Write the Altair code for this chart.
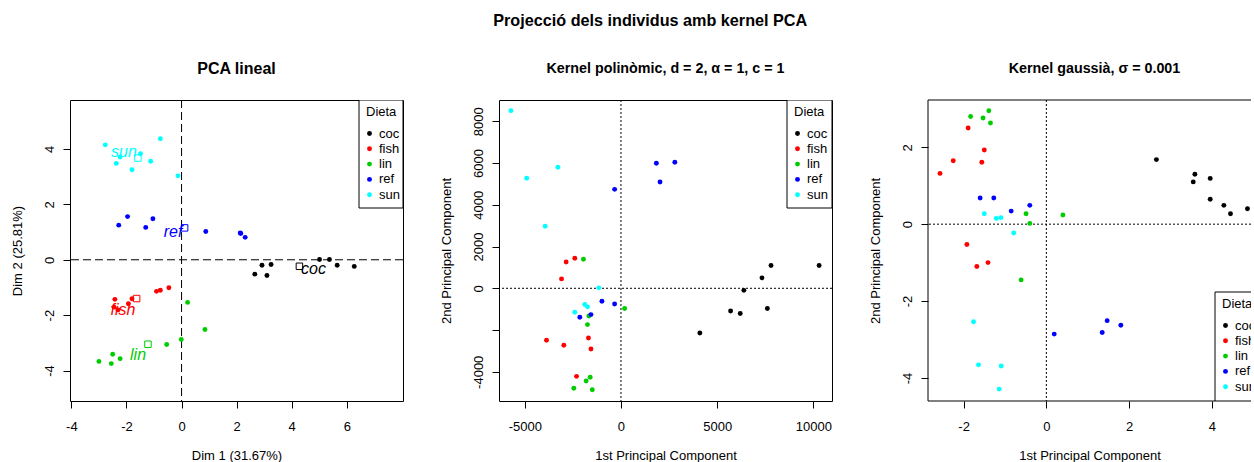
import altair as alt
import pandas as pd

diets = ["coc", "fish", "lin", "ref", "sun"]
diet_colors = ["#000000", "#FF0000", "#00CD00", "#0000FF", "#00FFFF"]
per_diet = 8

# Linear PCA scores, 8 individuals per diet (coc, fish, lin, ref, sun)
lin_dim1 = [2.66, 2.92, 3.25, 3.10, 5.01, 5.37, 5.65, 6.27,
            -2.42, -2.45, -2.31, -1.93, -1.80, -0.91, -0.77, -0.46,
            -3.00, -2.50, -2.55, -2.23, -0.54, -0.01, 0.22, 0.85,
            -2.28, -1.96, -1.30, -1.04, 0.88, 2.13, 2.15, 2.31,
            -2.77, -0.77, -2.23, -2.37, -1.49, -1.12, -1.80, -0.13]
lin_dim2 = [-0.52, -0.20, -0.17, -0.57, 0.01, 0.01, -0.20, -0.24,
            -1.43, -1.71, -1.81, -1.59, -1.41, -1.14, -1.10, -1.01,
            -3.67, -3.41, -3.75, -3.57, -3.06, -2.88, -1.54, -2.52,
            1.25, 1.56, 1.17, 1.48, 1.02, 0.97, 0.95, 0.81,
            4.15, 4.37, 3.71, 3.48, 3.83, 3.56, 3.25, 3.03]
# Where each diet name is written on the linear PCA map
label_dim1 = [4.79, -2.13, -1.58, -0.31, -2.09]
label_dim2 = [-0.33, -1.83, -3.45, 1.02, 3.91]

# Polynomial kernel PCA scores
poly_pc1 = [10300, 7800, 7330, 6390, 7610, 5700, 6200, 4100,
            -2850, -2400, -3090, -3870, -2970, -1690, -1560, -2310,
            -1950, 190, -1670, -1740, -1600, -1810, -2450, -1490,
            1840, 2800, 2030, -330, -990, -330, -1560, -2140,
            -5720, -4900, -3280, -3940, -1150, -1880, -1740, -2400]
poly_pc2 = [1090, 1090, 500, -100, -970, -1090, -1210, -2140,
            1260, 1440, 450, -2490, -2730, -2380, -2910, -4220,
            1390, -970, -1330, -1740, -4260, -4440, -4790, -4860,
            5990, 6040, 5090, 4740, -620, -750, -1260, -1390,
            8510, 5270, 5800, 2970, 20, -780, -890, -1150]

# Gaussian kernel PCA scores
gauss_pc1 = [2.66, 3.59, 3.55, 3.96, 3.96, 4.29, 4.45, 4.86,
             -1.89, -1.50, -2.25, -1.56, -2.57, -1.92, -1.68, -1.41,
             -1.83, -1.53, -1.39, -1.35, -0.49, -0.40, 0.40, -0.61,
             -1.60, -1.27, -0.85, -0.40, 0.19, 1.47, 1.35, 1.80,
             -1.50, -1.21, -1.10, -0.79, -1.76, -1.64, -1.09, -1.14]
gauss_pc2 = [1.68, 1.30, 1.10, 1.19, 0.65, 0.49, 0.27, 0.40,
             2.50, 1.93, 1.65, 1.61, 1.32, -0.53, -1.10, -1.00,
             2.80, 2.76, 2.95, 2.63, 0.27, 0.02, 0.24, -1.45,
             0.68, 0.68, 0.34, 0.49, -2.86, -2.51, -2.82, -2.63,
             0.27, 0.15, 0.17, -0.23, -2.54, -3.66, -3.69, -4.29]

diet_col = [d for d in diets for _ in range(per_diet)]
palette = dict(zip(diets, diet_colors))
FONT = "Liberation Sans"
PLOT_H = 301

lin_df = pd.DataFrame({"x": lin_dim1, "y": lin_dim2, "Dieta": diet_col})
lin_df["col"] = lin_df["Dieta"].map(palette)
poly_df = pd.DataFrame({"x": poly_pc1, "y": poly_pc2, "Dieta": diet_col})
gauss_df = pd.DataFrame({"x": gauss_pc1, "y": gauss_pc2, "Dieta": diet_col})
labels_df = pd.DataFrame({"x": label_dim1, "y": label_dim2, "Dieta": diets,
                          "col": diet_colors})
origin = pd.DataFrame({"v": [0]})


def label_expr(hidden=None):
    if hidden is None:
        return "toString(datum.value)"
    return f"datum.value == {hidden} ? '' : toString(datum.value)"


def boxed_legend(left, top, width=44, height=108):
    """Framed 'Dieta' key in the style of base-graphics legend()."""
    layers = [
        alt.Chart(origin).mark_rect(fill="white", stroke="black",
                                    strokeWidth=1, clip=True).encode(
            x=alt.value(left), x2=alt.value(left + width),
            y=alt.value(top), y2=alt.value(top + height)),
        alt.Chart(origin).mark_text(text="Dieta", align="left",
                                    baseline="middle", fontSize=13, font=FONT,
                                    color="black", clip=True).encode(
            x=alt.value(left + 7), y=alt.value(top + 11.5)),
    ]
    for i, (d, c) in enumerate(zip(diets, diet_colors)):
        row_y = top + 33.5 + i * 15.3
        layers.append(alt.Chart(origin).mark_circle(
            size=24, color=c, opacity=1, clip=True).encode(
            x=alt.value(left + 10.5), y=alt.value(row_y)))
        layers.append(alt.Chart(origin).mark_text(
            text=d, align="left", baseline="middle", fontSize=13, font=FONT,
            color="black", clip=True).encode(
            x=alt.value(left + 20), y=alt.value(row_y)))
    return layers


def panel(df, xdom, ydom, xticks, yticks, xtitle, ytitle, title, title_size,
          dash, width, hide_y=None, title_dx=0, extra=()):
    xs = alt.Scale(domain=xdom, nice=False, zero=False)
    ys = alt.Scale(domain=ydom, nice=False, zero=False)
    xaxis = alt.Axis(values=xticks, title=xtitle, labelExpr=label_expr())
    yaxis = alt.Axis(values=yticks, title=ytitle, labelExpr=label_expr(hide_y))
    vline = alt.Chart(origin).mark_rule(color="black", strokeDash=dash,
                                        strokeWidth=1).encode(
        x=alt.X("v:Q", scale=xs, axis=xaxis))
    hline = alt.Chart(origin).mark_rule(color="black", strokeDash=dash,
                                        strokeWidth=1).encode(
        y=alt.Y("v:Q", scale=ys, axis=yaxis))
    pts = alt.Chart(df).mark_circle(size=24, opacity=1).encode(
        x=alt.X("x:Q", scale=xs, axis=xaxis),
        y=alt.Y("y:Q", scale=ys, axis=yaxis),
        color=alt.Color("Dieta:N",
                        scale=alt.Scale(domain=diets, range=diet_colors),
                        legend=None),
    )
    layers = [vline, hline, pts, *extra]
    return alt.layer(*layers).properties(
        width=width, height=PLOT_H,
        title=alt.TitleParams(title, fontSize=title_size, fontWeight="bold",
                              font=FONT, anchor="middle", offset=23,
                              color="black", dx=title_dx),
    )


# group centroids as hollow squares plus the diet names
centroids = alt.Chart(lin_df).mark_point(shape="square", filled=False, size=42,
                                         strokeWidth=1, opacity=1).encode(
    x="mean(x):Q", y="mean(y):Q",
    color=alt.Color("col:N", scale=None), detail="Dieta:N")
names = alt.Chart(labels_df).mark_text(fontStyle="italic", fontSize=16,
                                       font=FONT).encode(
    x="x:Q", y="y:Q", text="Dieta:N", color=alt.Color("col:N", scale=None))

# The gaussian panel runs off the right edge of the page: its frame is drawn
# from rules and its legend is clipped at the border.
G_W = 323
frame = [
    alt.Chart(origin).mark_rule(color="black", strokeWidth=1).encode(
        x=alt.value(0), x2=alt.value(G_W), y=alt.value(0)),
    alt.Chart(origin).mark_rule(color="black", strokeWidth=1).encode(
        x=alt.value(0), x2=alt.value(G_W), y=alt.value(PLOT_H)),
    alt.Chart(origin).mark_rule(color="black", strokeWidth=1).encode(
        x=alt.value(0), y=alt.value(0), y2=alt.value(PLOT_H)),
]

p1 = panel(lin_df, [-4.05, 8.04], [-5.1, 5.77], [-4, -2, 0, 2, 4, 6],
           [-4, -2, 0, 2, 4], "Dim 1 (31.67%)", "Dim 2 (25.81%)",
           "PCA lineal", 16, [8, 4], 333,
           extra=(centroids, names, *boxed_legend(289, 0)))
p2 = panel(poly_df, [-6340, 10970], [-5400, 9020], [-5000, 0, 5000, 10000],
           [-4000, -2000, 0, 2000, 4000, 6000, 8000],
           "1st Principal Component", "2nd Principal Component",
           "Kernel polinòmic, d = 2, α = 1, c = 1", 14.3, [2, 2],
           333, hide_y=-2000, extra=tuple(boxed_legend(288, 0, width=45)))
g_right = -2.86 + G_W / 41.38
p3 = panel(gauss_df, [-2.86, g_right], [-4.6, 3.23], [-2, 0, 2, 4],
           [-4, -2, 0, 2], "1st Principal Component",
           "2nd Principal Component", "Kernel gaussià, σ = 0.001", 14.3,
           [2, 2], G_W, title_dx=5,
           extra=(*frame, *boxed_legend(287, 192, width=46, height=109))
           ).properties(view=alt.ViewBackground(stroke="transparent"))

chart = alt.hconcat(p1, p2, p3, spacing=96, bounds="flush").properties(
    title=alt.TitleParams("Projecció dels individus amb kernel PCA",
                          fontSize=16.2, fontWeight="bold", font=FONT,
                          anchor="middle", color="black", offset=31, dx=19),
    padding={"left": 10, "top": 12, "right": 0, "bottom": 0},
).configure_view(stroke="black", strokeWidth=1).configure_axis(
    grid=False, domain=False, tickColor="black", tickSize=7, tickWidth=1,
    labelColor="black", labelFont=FONT, labelFontSize=13, labelPadding=12,
    titleFont=FONT, titleFontSize=13, titleFontWeight="normal",
    titleColor="black", titlePadding=16,
).configure_axisY(
    labelAngle=-90, labelAlign="center", labelBaseline="bottom",
    labelPadding=7, titlePadding=19,
)

chart.save("out.html", embed_options={"renderer": "svg", "actions": False})
